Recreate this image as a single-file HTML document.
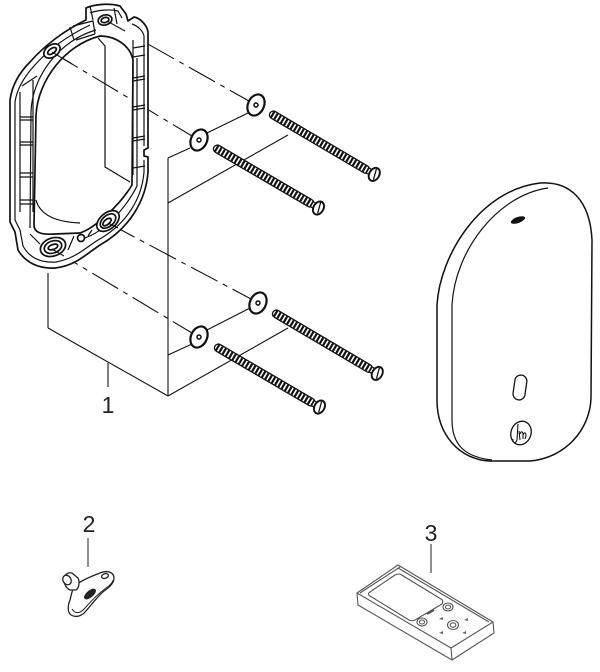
<!DOCTYPE html>
<html>
<head>
<meta charset="utf-8">
<style>
  html,body{margin:0;padding:0;background:#fff;}
  svg{display:block;}
  text{font-family:"Liberation Sans", sans-serif;}
</style>
</head>
<body>
<svg width="600" height="672" viewBox="0 0 600 672" xmlns="http://www.w3.org/2000/svg">
  <rect width="600" height="672" fill="#fff"/>

  <!-- dashed centre lines from frame holes to washers -->
  <g stroke="#111" stroke-width="1.1" fill="none" stroke-dasharray="30 6 5 6">
    <line x1="107" y1="21" x2="249" y2="101"/>
    <line x1="52" y1="52" x2="192" y2="136"/>
    <line x1="108" y1="223" x2="251" y2="299"/>
    <line x1="52" y1="249" x2="192" y2="333"/>
  </g>

  <!-- group bracket lines -->
  <g stroke="#111" stroke-width="1.1" fill="none">
    <line x1="168" y1="158" x2="168" y2="396"/>
    <line x1="168" y1="158" x2="190" y2="148"/>
    <line x1="207" y1="133" x2="248" y2="113"/>
    <line x1="168" y1="203" x2="288" y2="135"/>
    <line x1="168" y1="355" x2="192" y2="344"/>
    <line x1="207" y1="330" x2="250" y2="308"/>
    <line x1="168" y1="396" x2="288" y2="328"/>
    <line x1="168" y1="396" x2="48" y2="328"/>
    <line x1="48" y1="328" x2="48" y2="273"/>
    <line x1="108" y1="363" x2="108" y2="387"/>
  </g>

  <!-- mounting frame -->
  <g stroke="#111" stroke-width="1.7" fill="none" stroke-linejoin="round">
    <path fill="#fff" fill-rule="evenodd" d="M86,8 C95,4 110,3 120,6 L126,14 L128,21 L134,17 C140,18 147,25 148,32 L148,148 L144,150 L144,156 L148,157 L148,172 C146,200 130,228 100,245 C85,255 75,266 55,268 C38,269 25,262 18,250 L15,232 L10,222 L10,100 C12,85 20,72 30,62 C45,45 65,30 86,20 Z
      M100,36 C65,45 38,80 36,115 L34,225 C34,232 40,235 55,234 L80,233 C95,228 120,205 132,185 L133,60 C130,45 115,36 100,36 Z"/>
    <path stroke-width="1.2" d="M90,13 C98,10 110,9 118,11 L122,18 M132,24 C138,26 143,31 144,36 L144,146 M144,160 L144,172 C142,198 127,224 98,240 C84,249 74,259 56,262 C40,263 29,257 23,246 L20,230 L15,220 L15,102 C17,88 25,76 34,66 C48,50 67,36 90,25"/>
    <path stroke-width="1.2" d="M96,30 C60,40 32,76 31,112 L30,228 M137,58 L137,186 C125,210 100,236 80,239"/>
    <path stroke-width="1.2" d="M98,38 L105,46 L105,167 L130,182"/>
    <path stroke-width="1.2" d="M36,200 C40,215 55,222 80,223"/>
    <path stroke-width="1.2" d="M133,40 L133,175 M133,48 L145,46 M133,57 L145,55 M133,78 L145,76 M133,81 L145,79 M133,107 L145,105 M133,110 L145,108 M133,138 L145,136 M133,141 L145,139 M133,168 L145,166"/>
    <path stroke-width="1.2" d="M20,92 L20,212 M33,80 L33,212 M22,86 L37,76 M20,117 L33,117 M20,120 L33,120 M20,142 L33,142 M20,145 L33,145 M20,173 L33,173 M20,177 L33,177 M20,200 L33,200 M20,204 L33,204"/>
    <path stroke-width="1.2" d="M70,27 L74,40 M73,26 L93,21 L95,34 M95,34 L76,40 M90,6 L93,20 M114,8 L117,24"/>
    <ellipse cx="52" cy="51" rx="9" ry="6" transform="rotate(-35 52 51)" fill="#fff"/>
    <ellipse cx="52" cy="51" rx="5" ry="2.5" transform="rotate(-35 52 51)"/>
    <ellipse cx="105" cy="20" rx="7" ry="5" transform="rotate(-15 105 20)" fill="#fff"/>
    <ellipse cx="105" cy="20" rx="4" ry="2.5" transform="rotate(-15 105 20)"/>
    <ellipse cx="53" cy="247" rx="13" ry="9" transform="rotate(-20 53 247)" fill="#fff"/>
    <ellipse cx="53" cy="247" rx="9" ry="6" transform="rotate(-20 53 247)"/>
    <ellipse cx="53" cy="247" rx="5" ry="2.5" transform="rotate(-20 53 247)"/>
    <ellipse cx="108" cy="221" rx="13" ry="8" transform="rotate(-40 108 221)" fill="#fff"/>
    <ellipse cx="108" cy="221" rx="9" ry="5.5" transform="rotate(-40 108 221)"/>
    <ellipse cx="107" cy="222" rx="5" ry="2.5" transform="rotate(-40 107 222)"/>
    <circle cx="81" cy="238" r="3.5" fill="#fff"/>
    <path stroke-width="1.2" d="M68,250 L74,236 M88,236 L92,230 M30,234 L40,244"/>
  </g>
  <g stroke="#111" stroke-width="1.1">
    <line x1="107" y1="21" x2="125" y2="31"/>
    <line x1="52" y1="52" x2="72" y2="64"/>
    <line x1="108" y1="223" x2="118" y2="228"/>
    <line x1="52" y1="249" x2="64" y2="256"/>
  </g>

  <!-- washers -->
  <g stroke="#111" fill="#fff">
    <g transform="translate(256,105) rotate(25)"><ellipse rx="8" ry="11" stroke-width="2.2"/><circle r="2" stroke-width="1.5"/></g>
    <g transform="translate(199,140) rotate(25)"><ellipse rx="8" ry="11" stroke-width="2.2"/><circle r="2" stroke-width="1.5"/></g>
    <g transform="translate(258,303) rotate(25)"><ellipse rx="8" ry="11" stroke-width="2.2"/><circle r="2" stroke-width="1.5"/></g>
    <g transform="translate(199,337) rotate(25)"><ellipse rx="8" ry="11" stroke-width="2.2"/><circle r="2" stroke-width="1.5"/></g>
  </g>

  <!-- screws -->
  <defs>
    <g id="screw">
      <rect x="0" y="-3.9" width="115" height="7.8" rx="3.9" fill="#fff" stroke="#111" stroke-width="1.3"/>
      <line x1="2" y1="0" x2="114" y2="0" stroke="#111" stroke-width="6.8" stroke-dasharray="2.2 1.6"/>
      <path d="M114,-3 L118,-2.5 L118,2.5 L114,3" fill="#fff" stroke="#111" stroke-width="1.2"/>
      <ellipse cx="121" cy="0" rx="5" ry="7" fill="#fff" stroke="#111" stroke-width="1.9"/>
      <line x1="120" y1="-6" x2="123" y2="5" stroke="#111" stroke-width="1.3"/>
    </g>
  </defs>
  <use href="#screw" transform="translate(270,113) rotate(30.5)"/>
  <use href="#screw" transform="translate(214,147) rotate(30.3)"/>
  <use href="#screw" transform="translate(273,312) rotate(30.5)"/>
  <use href="#screw" transform="translate(215,346) rotate(30.3)"/>

  <!-- cover plate -->
  <g stroke="#111" fill="none" stroke-width="1.5">
    <path fill="#fff" d="M437,400 L437,305 C440,255 480,190 540,183 C570,181 590,200 592,240 L591,398 C590,430 565,458 530,461 L490,461 C460,460 437,435 437,400 Z"/>
    <path stroke-width="1.2" d="M548,188 C498,195 455,250 452,305 L452,420 C452,445 465,457 492,460"/>
    <ellipse cx="518" cy="220" rx="7.5" ry="3" transform="rotate(-20 518 220)" fill="#111" stroke="none"/>
    <rect x="514" y="375" width="12" height="25" rx="6" transform="rotate(8 520 387)" stroke-width="1.3"/>
    <ellipse cx="521" cy="433" rx="10" ry="12" transform="rotate(20 521 433)" stroke-width="1.3"/>
    <path stroke-width="1.1" d="M518,424 L517,440 C516,444 512,443 513,439 M519,431 L520,440 M520,434 C521,431 523,431 523,435 L523,439 M523,435 C524,432 526,432 526,436 L525,439"/>
  </g>

  <!-- labels -->
  <g fill="#222" font-size="23" text-anchor="middle">
    <text x="108" y="413">1</text>
    <text x="89" y="532">2</text>
    <text x="431" y="541">3</text>
  </g>
  <line x1="88" y1="538" x2="88" y2="567" stroke="#333" stroke-width="1.1"/>
  <line x1="431" y1="544" x2="431" y2="573" stroke="#333" stroke-width="1.1"/>

  <!-- key -->
  <g stroke="#222" fill="#fff" stroke-width="1.3" stroke-linejoin="round">
    <path d="M74,586 C82,580 92,576 100,573 C107,570 114,572 114,578 C114,583 110,587 104,591 C98,596 92,604 86,611 C82,616 76,618 71,615 C67,612 68,605 70,600 C71,596 72,591 74,586 Z"/>
    <path fill="none" stroke-width="1" d="M72,609 C75,614 80,614 85,608 C92,600 99,593 106,588 C111,585 113,581 113,580"/>
    <path d="M64,580 C63,575 68,572 72,573 L78,578 C80,582 79,588 76,590 L70,590 C66,588 64,584 64,580 Z"/>
    <ellipse cx="67" cy="580" rx="4" ry="5" transform="rotate(-30 67 580)"/>
    <ellipse cx="105" cy="576" rx="3.5" ry="2.3" transform="rotate(-20 105 576)" fill="none"/>
    <ellipse cx="90" cy="594" rx="6.5" ry="2.8" transform="rotate(-40 90 594)" fill="#222"/>
  </g>

  <!-- remote -->
  <g stroke="#555" fill="none" stroke-width="1.1" stroke-linejoin="round">
    <path fill="#fff" d="M398,565 L493,622 L494,633 L452,660 L358,605 L357,593 Z"/>
    <path d="M357,593 L451,648 L493,622 M451,648 L452,660"/>
    <path d="M398,568 L489,622 M400,567 L360,593"/>
    <path d="M400,574 L441,599 C443,600 443,602 442,604 L415,620 C413,621 411,621 409,620 L370,596 C368,595 368,593 370,592 L395,575 C397,574 398,574 400,574 Z"/>
    <ellipse cx="448" cy="607" rx="5" ry="4"/>
    <ellipse cx="448" cy="607" rx="2.5" ry="2"/>
    <ellipse cx="453" cy="625" rx="5.5" ry="4.5"/>
    <ellipse cx="453" cy="625" rx="2.8" ry="2.2"/>
    <ellipse cx="422" cy="622" rx="5" ry="4"/>
    <ellipse cx="422" cy="622" rx="2.5" ry="2"/>
    <path stroke-width="2" d="M427,614 L434,610"/>
    <path fill="#666" stroke="none" d="M439,619 l4,-2 l0,3 Z M464,620 l4,-2 l0,3 Z M439,633 l4,-2 l0,3 Z M462,633 l4,-2 l0,3 Z"/>
  </g>
</svg>
</body>
</html>
